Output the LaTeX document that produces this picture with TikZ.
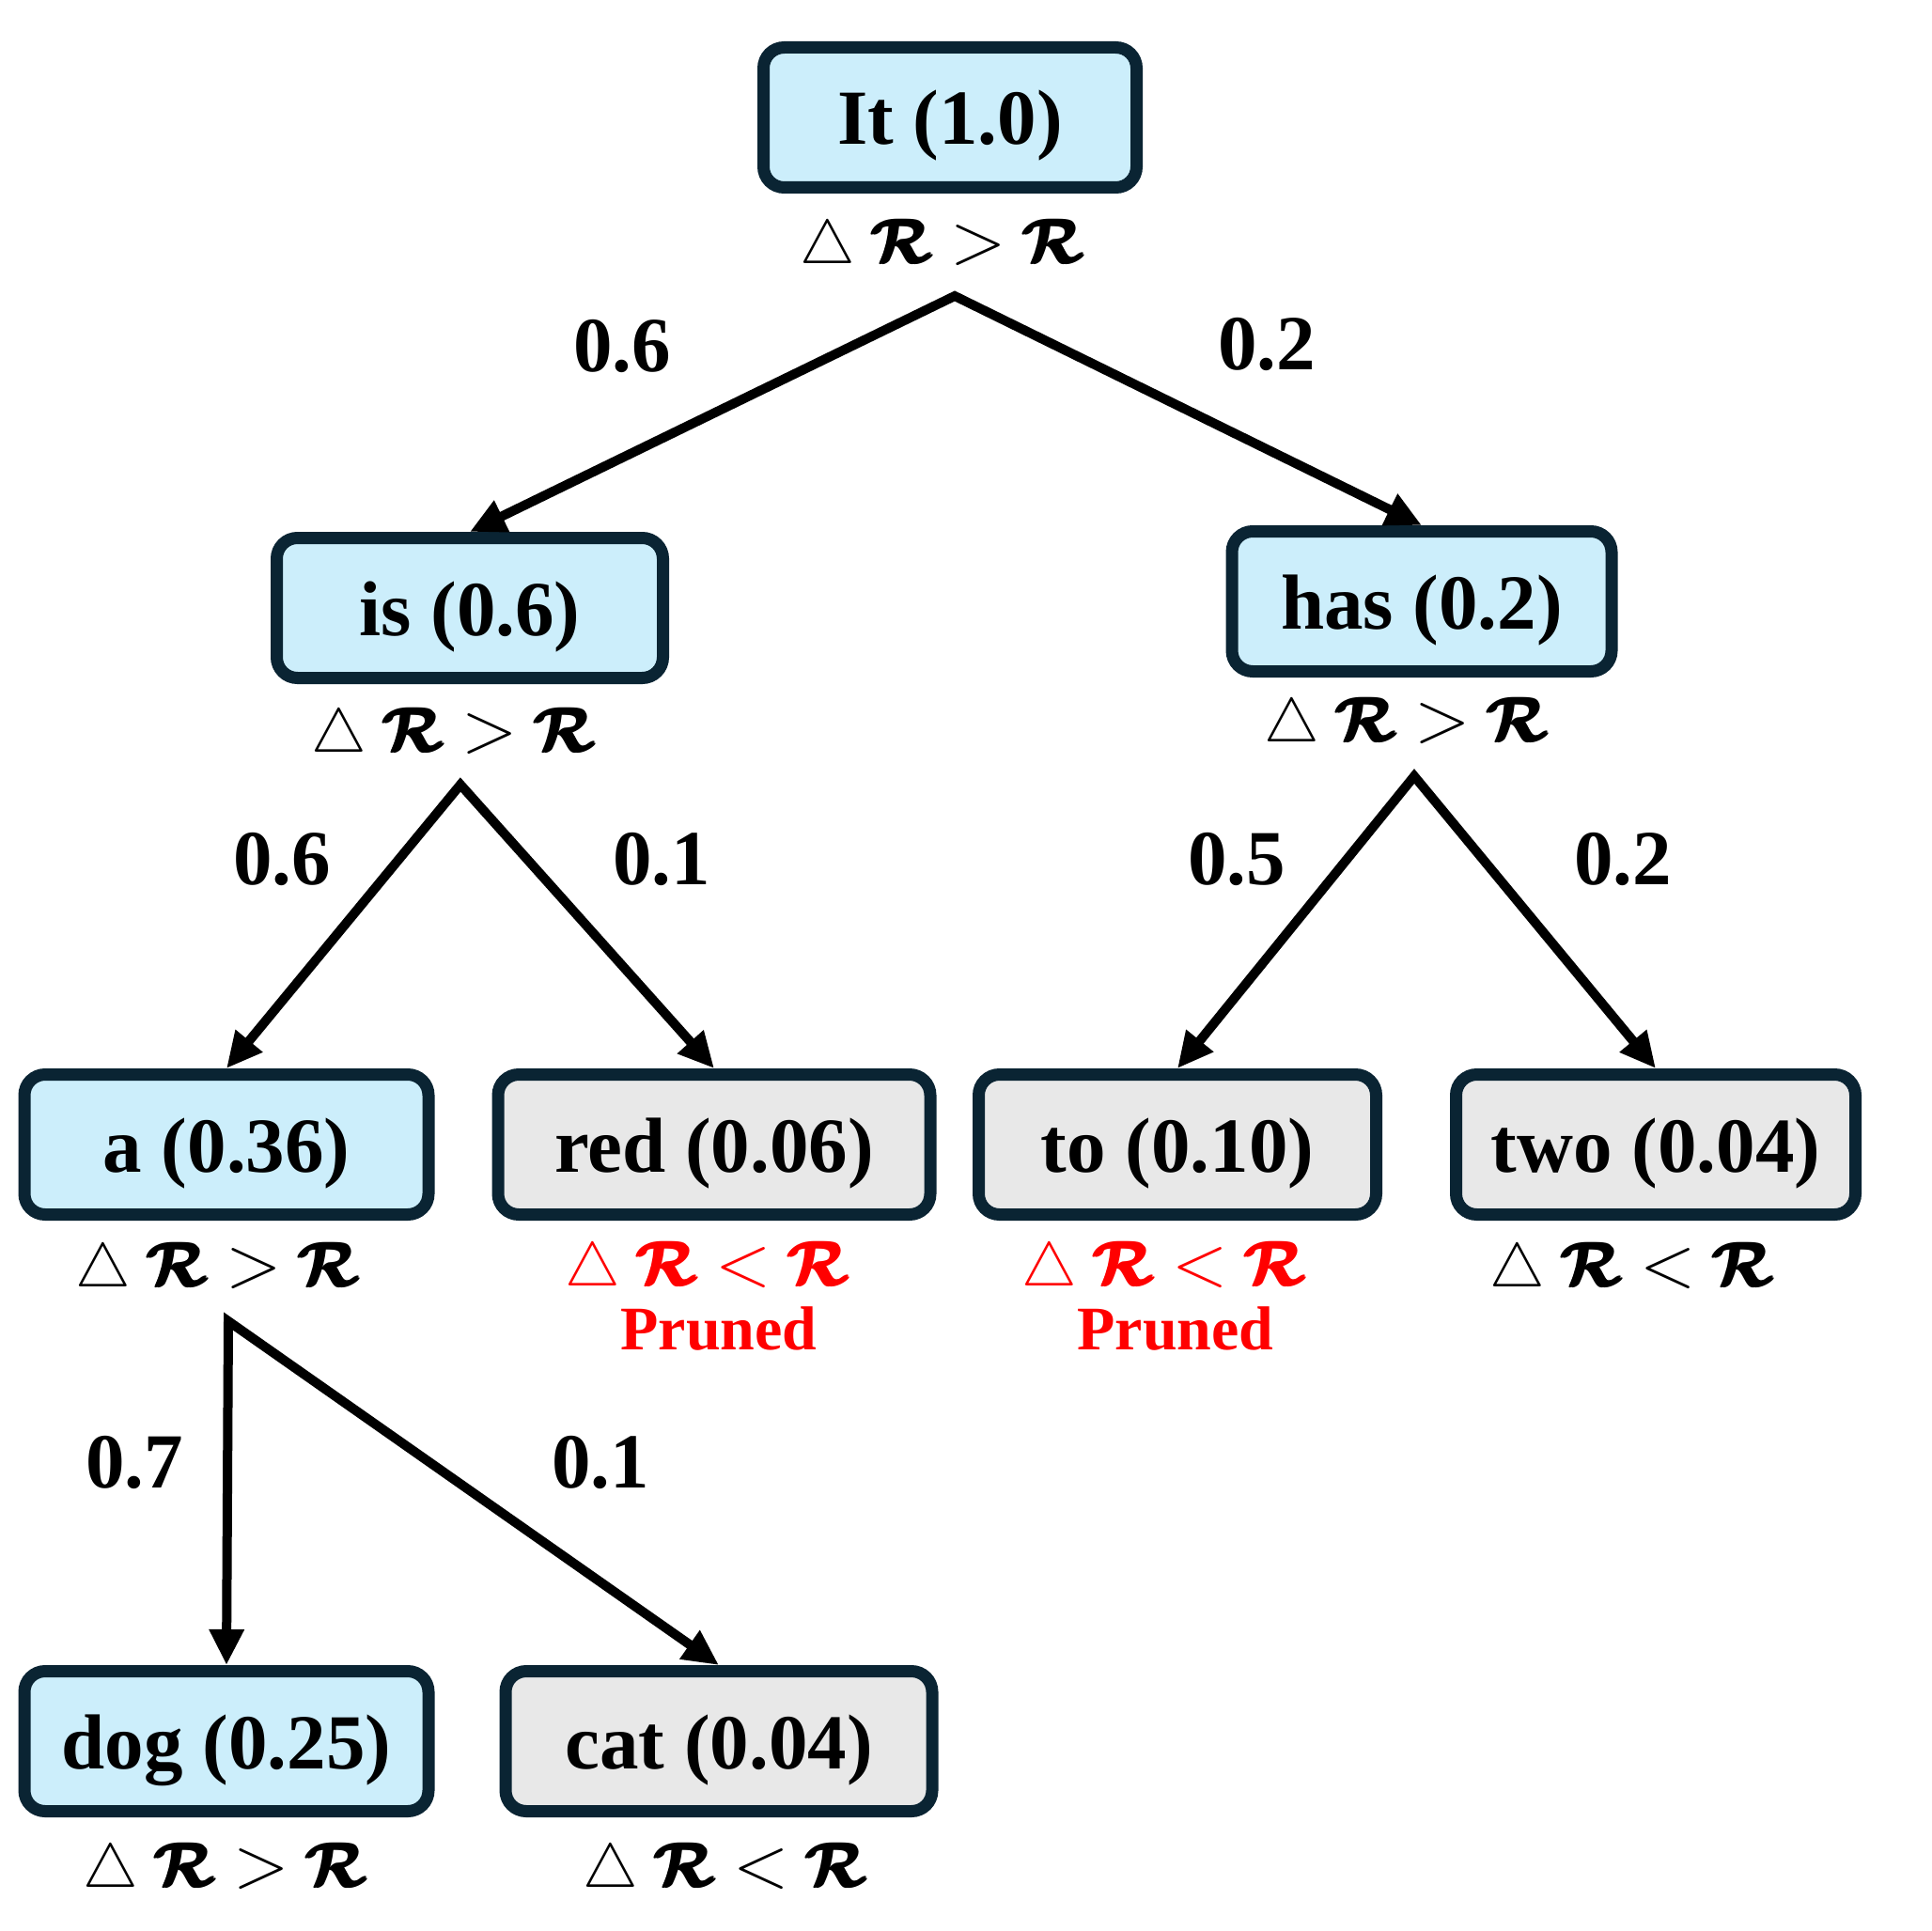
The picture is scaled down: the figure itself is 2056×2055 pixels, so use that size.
\RequirePackage{fix-cm}
\documentclass[tikz,border=0pt]{standalone}
\usepackage{amsmath}
\usepackage{graphicx}
\usepackage{fontspec}
\setmainfont{Liberation Serif}
\usepackage{bm}
\usetikzlibrary{arrows.meta}
\definecolor{nodeblue}{HTML}{CCEEFB}
\definecolor{nodegray}{HTML}{E8E8E8}
\definecolor{nodeborder}{HTML}{0A2433}
\definecolor{prunered}{HTML}{FF0000}
\newcommand{\fatR}{\pmb{\bm{\mathcal{R}}}}
\newcommand{\biggt}{\mathrel{\scalebox{1.18}{$>$}}}
\newcommand{\biglt}{\mathrel{\scalebox{1.18}{$<$}}}
\newcommand{\up}{$\triangle\;\fatR \biggt \fatR$}
\newcommand{\down}{$\triangle\;\fatR \biglt \fatR$}
\begin{document}
\begin{tikzpicture}[x=1pt,y=-1pt,
  tok/.style={draw=nodeborder, line width=13pt, rounded corners=22pt, minimum height=149pt, inner sep=0pt, text height=60pt, text depth=2pt, font=\fontsize{83}{92}\selectfont\bfseries},
  keep/.style={tok, fill=nodeblue},
  drop/.style={tok, fill=nodegray},
  cond/.style={font=\fontsize{66}{72}\selectfont, inner sep=0pt},
  prunedcond/.style={cond, text=prunered},
  prunedtxt/.style={font=\fontsize{66}{72}\selectfont\bfseries, text=prunered, inner sep=0pt},
  prob/.style={font=\fontsize{83}{92}\selectfont\bfseries, inner sep=0pt},
  edge/.style={line width=10pt, line join=miter, {Triangle[length=38pt,width=35pt]}-{Triangle[length=38pt,width=35pt]}}
]
\useasboundingbox (0,0) rectangle (2056,2055);
\fill[white] (0,0) rectangle (2056,2055);

% level 0
\node[keep, minimum width=397pt] (it) at (1011,125) {It (1.0)};
\node[cond] (itc) at (1003,263) {\up};
\coordinate (itapex) at (1016,315);

% level 1
\node[keep, minimum width=411pt] (is) at (500,647) {is (0.6)};
\node[cond] (isc) at (483,783) {\up};
\coordinate (isapex) at (490,835);

\node[keep, minimum width=404pt] (has) at (1513,640) {has (0.2)};
\node[cond] (hasc) at (1497,772) {\up};
\coordinate (hasapex) at (1505,826);

% level 2
\node[keep, minimum width=430pt] (a) at (241,1218) {a (0.36)};
\node[cond] (ac) at (232,1352) {\up};
\coordinate (aapex) at (243,1406);

\node[drop, minimum width=460pt] (red) at (760,1218) {red (0.06)};
\node[prunedcond] (redc) at (753,1351) {\down};
\node[prunedtxt] (redp) at (765,1414) {Pruned};

\node[drop, minimum width=423pt] (to) at (1253,1218) {to (0.10)};
\node[prunedcond] (toc) at (1239,1351) {\down};
\node[prunedtxt] (top) at (1251,1414) {Pruned};

\node[drop, minimum width=425pt] (two) at (1762,1218) {two (0.04)};
\node[cond] (twoc) at (1737,1352) {\down};

% level 3
\node[keep, minimum width=430pt] (dog) at (241,1853) {dog (0.25)};
\node[cond] (dogc) at (240,1991) {\up};

\node[drop, minimum width=454pt] (cat) at (765,1853) {cat (0.04)};
\node[cond] (catc) at (772,1991) {\down};

% connectors
\draw[edge] (is.north) -- (itapex) -- (has.north);
\draw[edge] (a.north) -- (isapex) -- (red.north);
\draw[edge] (to.north) -- (hasapex) -- (two.north);
\draw[edge] (dog.north) -- (aapex) -- (cat.north);

% edge probabilities
\node[prob] (p1) at (662,368) {0.6};
\node[prob] (p2) at (1348,366) {0.2};
\node[prob] (p3) at (300,914) {0.6};
\node[prob] (p4) at (704,914) {0.1};
\node[prob] (p5) at (1316,914) {0.5};
\node[prob] (p6) at (1727,914) {0.2};
\node[prob] (p7) at (143,1556) {0.7};
\node[prob] (p8) at (639,1556) {0.1};
\end{tikzpicture}
\end{document}
